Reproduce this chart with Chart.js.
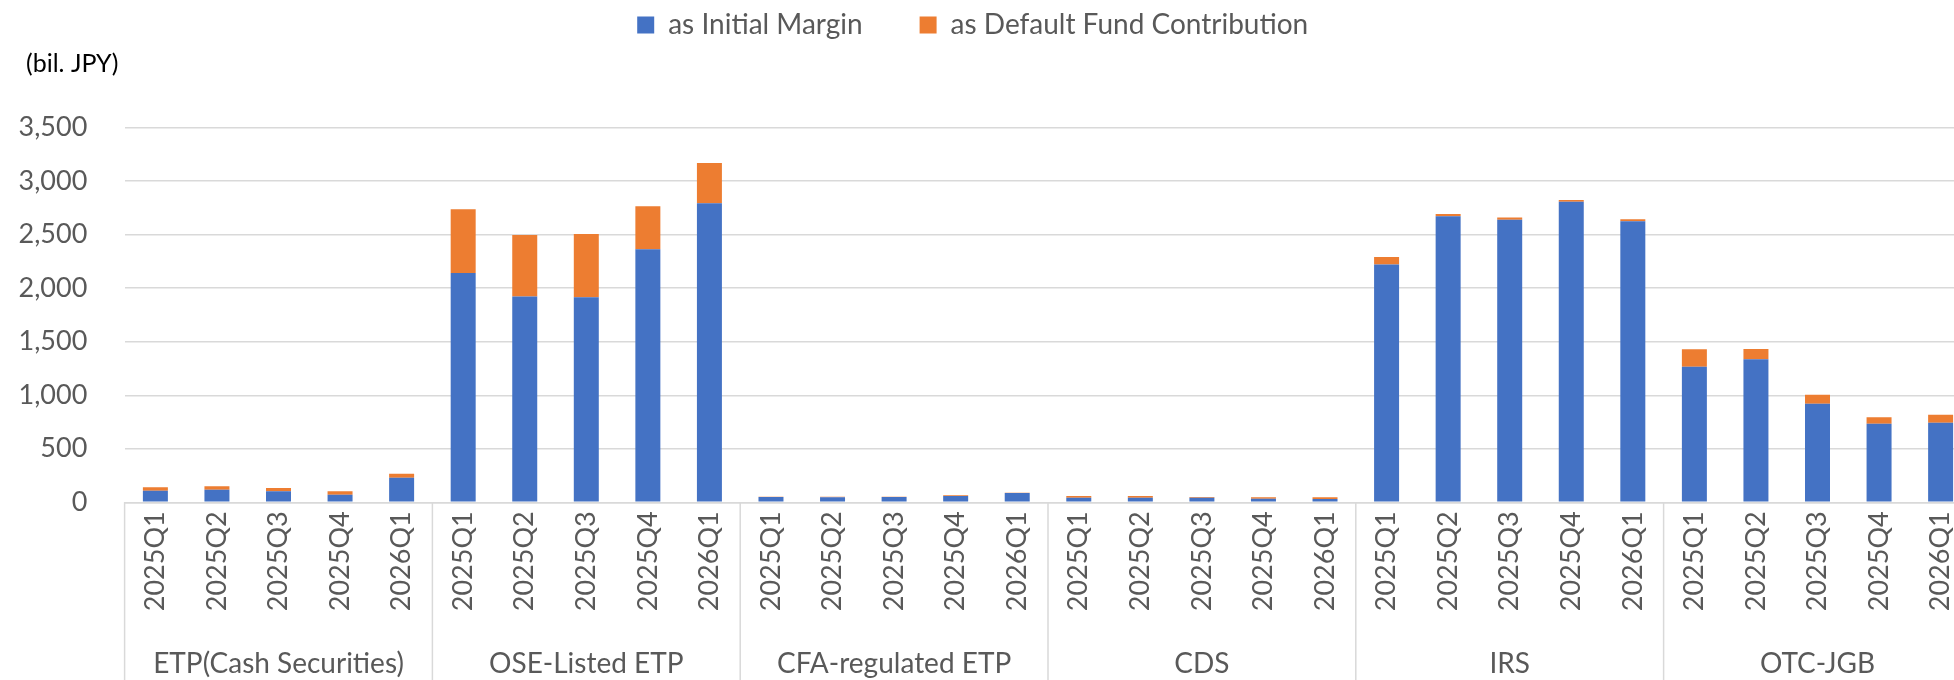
<!DOCTYPE html>
<html>
<head>
<meta charset="utf-8">
<script src="https://cdn.jsdelivr.net/npm/chart.js@4/dist/chart.umd.min.js"></script>
<style>
  html, body { margin: 0; padding: 0; background: #ffffff; overflow: hidden; }
  #wrap { position: relative; width: 1980px; height: 680px; }
</style>
</head>
<body>
<div id="wrap"><canvas id="c"></canvas></div>
<script>
// ---- data ----
const groups = ['ETP(Cash Securities)', 'OSE-Listed ETP', 'CFA-regulated ETP', 'CDS', 'IRS', 'OTC-JGB'];
const quarters = ['2025Q1', '2025Q2', '2025Q3', '2025Q4', '2026Q1'];
const seriesNames = ['as Initial Margin', 'as Default Fund Contribution'];
const initialMargin = [
  108, 118, 103, 71, 230,
  2143, 1922, 1916, 2364, 2794,
  50, 47, 50, 59, 87,
  43, 43, 43, 34, 32,
  2221, 2673, 2641, 2809, 2626,
  1267, 1336, 921, 735, 744
];
const defaultFund = [
  32, 32, 31, 32, 37,
  595, 576, 591, 402, 377,
  2, 6, 3, 7, 3,
  16, 16, 7, 14, 16,
  71, 21, 19, 16, 19,
  163, 97, 85, 59, 75
];
const yTicks = [0, 500, 1000, 1500, 2000, 2500, 3000, 3500];
const unitLabel = '(bil. JPY)';

// ---- build ----
const labels = [];
groups.forEach(() => quarters.forEach(q => labels.push(q)));

const FONT = 'Lato';
const GRID = '#d9d9d9';
const TXT = '#595959';

const boxShift = {
  id: 'boxShift',
  afterLayout(chart) {
    const lg = chart.legend;
    if (lg) {
      const pad = lg.options.labels.padding;
      const dx = 972.7 - (lg.left + lg.right) / 2;
      lg.left += dx; lg.right += dx;
      const size = lg.options.labels.font.size;
      const dy = 25 - (lg.top + pad + size / 2);
      lg.top += dy;
    }
    const tb = chart.titleBlock;
    if (tb) {
      const d = 26 - tb.left;
      tb.left += d; tb.right += d;
    }
  }
};

const separators = {
  id: 'separators',
  afterDraw(chart) {
    const x = chart.scales.x;
    const { ctx, chartArea } = chart;
    ctx.save();
    ctx.strokeStyle = GRID;
    ctx.lineWidth = 1.5;
    for (let g = 0; g <= groups.length; g++) {
      const px = x.getPixelForValue(g * quarters.length - 0.5);
      ctx.beginPath();
      ctx.moveTo(px, chartArea.bottom);
      ctx.lineTo(px, chart.height);
      ctx.stroke();
    }
    ctx.restore();
  }
};

function draw() {
  new Chart(document.getElementById('c'), {
    type: 'bar',
    data: {
      labels: labels,
      datasets: [
        { label: seriesNames[0], data: initialMargin, backgroundColor: '#4472C4',
          barPercentage: 0.406, categoryPercentage: 1.0 },
        { label: seriesNames[1], data: defaultFund, backgroundColor: '#ED7D31',
          barPercentage: 0.406, categoryPercentage: 1.0 }
      ]
    },
    options: {
      responsive: true,
      maintainAspectRatio: false,
      animation: false,
      layout: { padding: { left: 6, right: 8.6, top: 0, bottom: 0 } },
      plugins: {
        tooltip: { enabled: false },
        legend: {
          position: 'top',
          align: 'center',
          maxHeight: 49,
          labels: {
            boxWidth: 17, boxHeight: 17, padding: 57, color: TXT,
            font: { family: FONT, size: 28, lineHeight: 1.2 }
          }
        },
        title: {
          display: true,
          text: unitLabel,
          align: 'start',
          position: 'top',
          weight: 500,
          color: '#000000',
          font: { family: FONT, size: 25, weight: 'normal', lineHeight: 1.2 },
          padding: { top: 0, bottom: 48.7 }
        }
      },
      scales: {
        x: {
          type: 'category',
          stacked: true,
          offset: true,
          position: 'bottom',
          grid: { display: false, drawTicks: false },
          border: { display: true, color: GRID, width: 1.5 },
          ticks: {
            autoSkip: false, minRotation: 90, maxRotation: 90, padding: 9,
            color: TXT, font: { family: FONT, size: 27 }
          },
          afterFit(scale) { scale.height = 124; scale.paddingLeft = 0; scale.paddingRight = 0; }
        },
        x2: {
          type: 'category',
          labels: groups,
          offset: true,
          position: 'bottom',
          grid: { display: false, drawTicks: false },
          border: { display: false },
          ticks: {
            autoSkip: false, maxRotation: 0, minRotation: 0, padding: 21,
            color: TXT, font: { family: FONT, size: 28 }
          },
          afterFit(scale) { scale.height = 53.7; scale.paddingLeft = 0; scale.paddingRight = 0; }
        },
        y: {
          stacked: true,
          min: yTicks[0],
          max: yTicks[yTicks.length - 1],
          afterBuildTicks(scale) { scale.ticks = yTicks.map(v => ({ value: v })); },
          grid: { color: GRID, lineWidth: 1.5, drawTicks: false },
          border: { display: false },
          ticks: {
            padding: 37.3, color: TXT, font: { family: FONT, size: 27 },
            callback: v => Number(v).toLocaleString('en-US')
          },
          afterFit(scale) { scale.width = 118.6; }
        }
      }
    },
    plugins: [boxShift, separators]
  });
}

if (document.fonts && document.fonts.load) {
  Promise.all([
    document.fonts.load('25px Lato'),
    document.fonts.load('27px Lato'),
    document.fonts.load('28px Lato')
  ]).then(draw, draw);
} else {
  draw();
}
</script>
</body>
</html>
